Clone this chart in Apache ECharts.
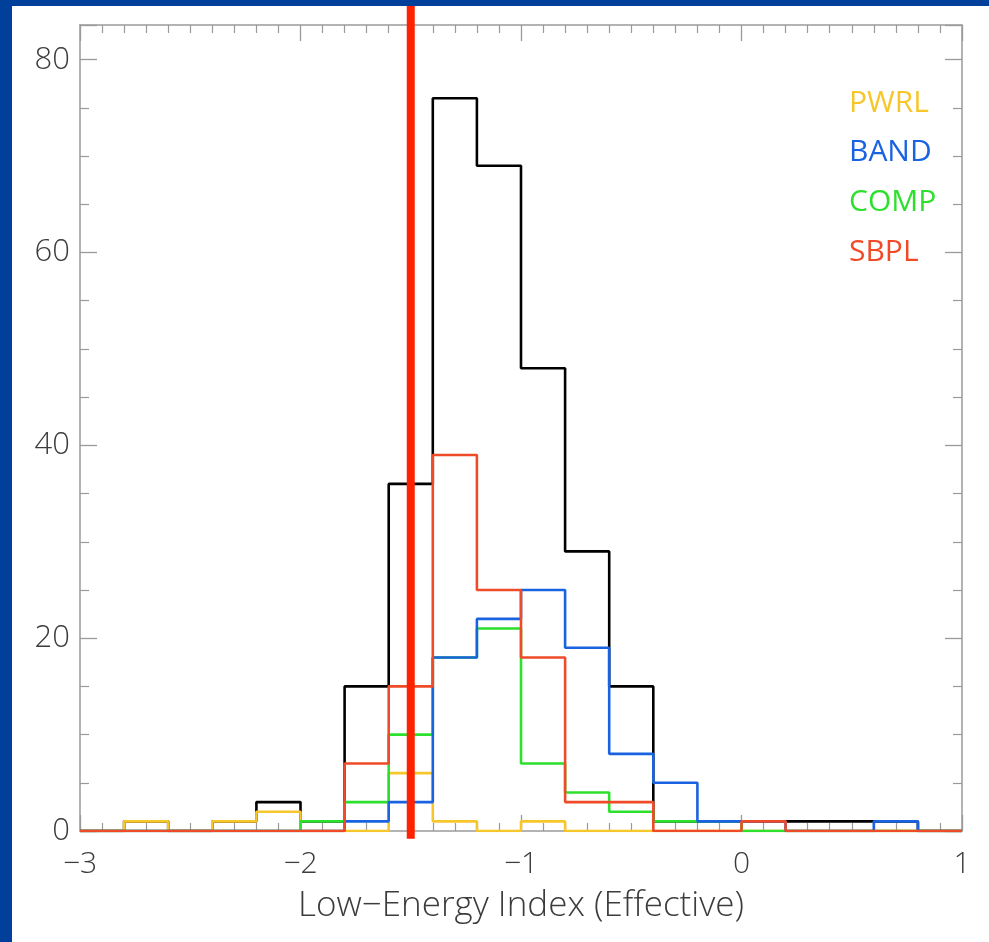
<!DOCTYPE html>
<html>
<head>
<meta charset="utf-8">
<script src="https://cdn.jsdelivr.net/npm/echarts@6/dist/echarts.min.js"></script>
<style>
html,body{margin:0;padding:0;background:#fff;}
#chart{width:989px;height:942px;}
</style>
</head>
<body>
<div id="chart"></div>
<script>
// Bin left edges (bin width 0.2)
const binLeft = [-3.0,-2.8,-2.6,-2.4,-2.2,-2.0,-1.8,-1.6,-1.4,-1.2,-1.0,-0.8,-0.6,-0.4,-0.2,0.0,0.2,0.4,0.6,0.8];
const binEnd = 1.0;
const totalCounts = [0,1,0,1,3,1,15,36,76,69,48,29,15,1,1,1,1,1,1,0];
const pwrlCounts  = [0,1,0,1,2,0,0,6,1,0,1,0,0,0,0,0,0,0,0,0];
const compCounts  = [0,0,0,0,0,1,3,10,18,21,7,4,2,1,1,0,0,0,0,0];
const bandCounts  = [0,0,0,0,0,0,1,3,18,22,25,19,8,5,1,1,0,0,1,0];
const sbplCounts  = [0,0,0,0,0,0,7,15,39,25,18,3,3,0,0,1,0,0,0,0];
const seriesNames = ['PWRL','BAND','COMP','SBPL'];
const xTicks = [-3,-2,-1,0,1];
const yTicks = [0,20,40,60,80];
const refLineX = -1.5;
const refLineSpan = [-0.8, 90];
const xTitle = 'Low\u2212Energy Index (Effective)';

const colors = {total:'#000000', PWRL:'#f7c62a', BAND:'#1a63e0', COMP:'#2de02d', SBPL:'#f04b28'};
const FONT = 'Open Sans';

function steps(counts){
  const d = binLeft.map((x,i)=>[x, counts[i]]);
  d.push([binEnd, counts[counts.length-1]]);
  return d;
}
function histSeries(name, counts, color){
  return {name:name, type:'line', step:'end', data:steps(counts), symbol:'none',
    lineStyle:{color:color, width:2.6}, itemStyle:{color:color}, animation:false, z:3};
}

const axisGray = '#9a9a9a';
const xCommon = {type:'value', min:xTicks[0], max:xTicks[xTicks.length-1], interval:1,
  axisLine:{show:true, onZero:false, lineStyle:{color:axisGray, width:1.5}},
  axisTick:{show:true, inside:true, length:16, lineStyle:{color:axisGray, width:1.3}},
  minorTick:{show:true, splitNumber:10, length:8, lineStyle:{color:axisGray, width:1.2}},
  splitLine:{show:false}};
const yCommon = {type:'value', min:yTicks[0], max:83.6, interval:20,
  axisLine:{show:true, onZero:false, lineStyle:{color:axisGray, width:1.5}},
  axisTick:{show:true, inside:true, length:17, lineStyle:{color:axisGray, width:1.3}},
  minorTick:{show:true, splitNumber:4, length:9, lineStyle:{color:axisGray, width:1.2}},
  splitLine:{show:false}};

const chart = echarts.init(document.getElementById('chart'), null, {renderer:'canvas'});
const legendTexts = seriesNames.map((n,i)=>({type:'text', x:849, y:103+i*49.7,
  style:{text:n, fill:colors[n], font:'400 30px "'+FONT+'"', verticalAlign:'middle'}, z:10}));

chart.setOption({
  backgroundColor:'#ffffff',
  animation:false,
  grid:{left:80, right:27, top:25, bottom:111, containLabel:false},
  xAxis:[
    Object.assign({}, xCommon, {position:'bottom',
      axisLabel:{show:true, margin:18, color:'#3c3c3c', fontSize:30, fontFamily:FONT, fontWeight:300,
        formatter:v=>String(v).replace('-', '\u2212')},
      name:xTitle, nameLocation:'middle', nameGap:58,
      nameTextStyle:{color:'#3c3c3c', fontSize:35, fontFamily:FONT, fontWeight:300}}),
    Object.assign({}, xCommon, {position:'top', axisLabel:{show:false}})
  ],
  yAxis:[
    Object.assign({}, yCommon, {position:'left',
      axisLabel:{show:true, margin:10, color:'#3c3c3c', fontSize:31, fontFamily:FONT, fontWeight:300,
        showMaxLabel:false}}),
    Object.assign({}, yCommon, {position:'right', axisLabel:{show:false}})
  ],
  series:[
    histSeries('Total', totalCounts, colors.total),
    histSeries('PWRL', pwrlCounts, colors.PWRL),
    histSeries('COMP', compCounts, colors.COMP),
    histSeries('BAND', bandCounts, colors.BAND),
    histSeries('SBPL', sbplCounts, colors.SBPL),
    {name:'ref', type:'line', data:[[refLineX, refLineSpan[0]],[refLineX, refLineSpan[1]]],
     symbol:'none', clip:false, lineStyle:{color:'#ff2200', width:8}, z:5, animation:false}
  ],
  graphic:[
    {type:'rect', left:0, top:0, shape:{width:989, height:6}, style:{fill:'#00409a'}, z:20},
    {type:'rect', left:0, top:0, shape:{width:12, height:942}, style:{fill:'#00409a'}, z:20}
  ].concat(legendTexts)
});
</script>
</body>
</html>
